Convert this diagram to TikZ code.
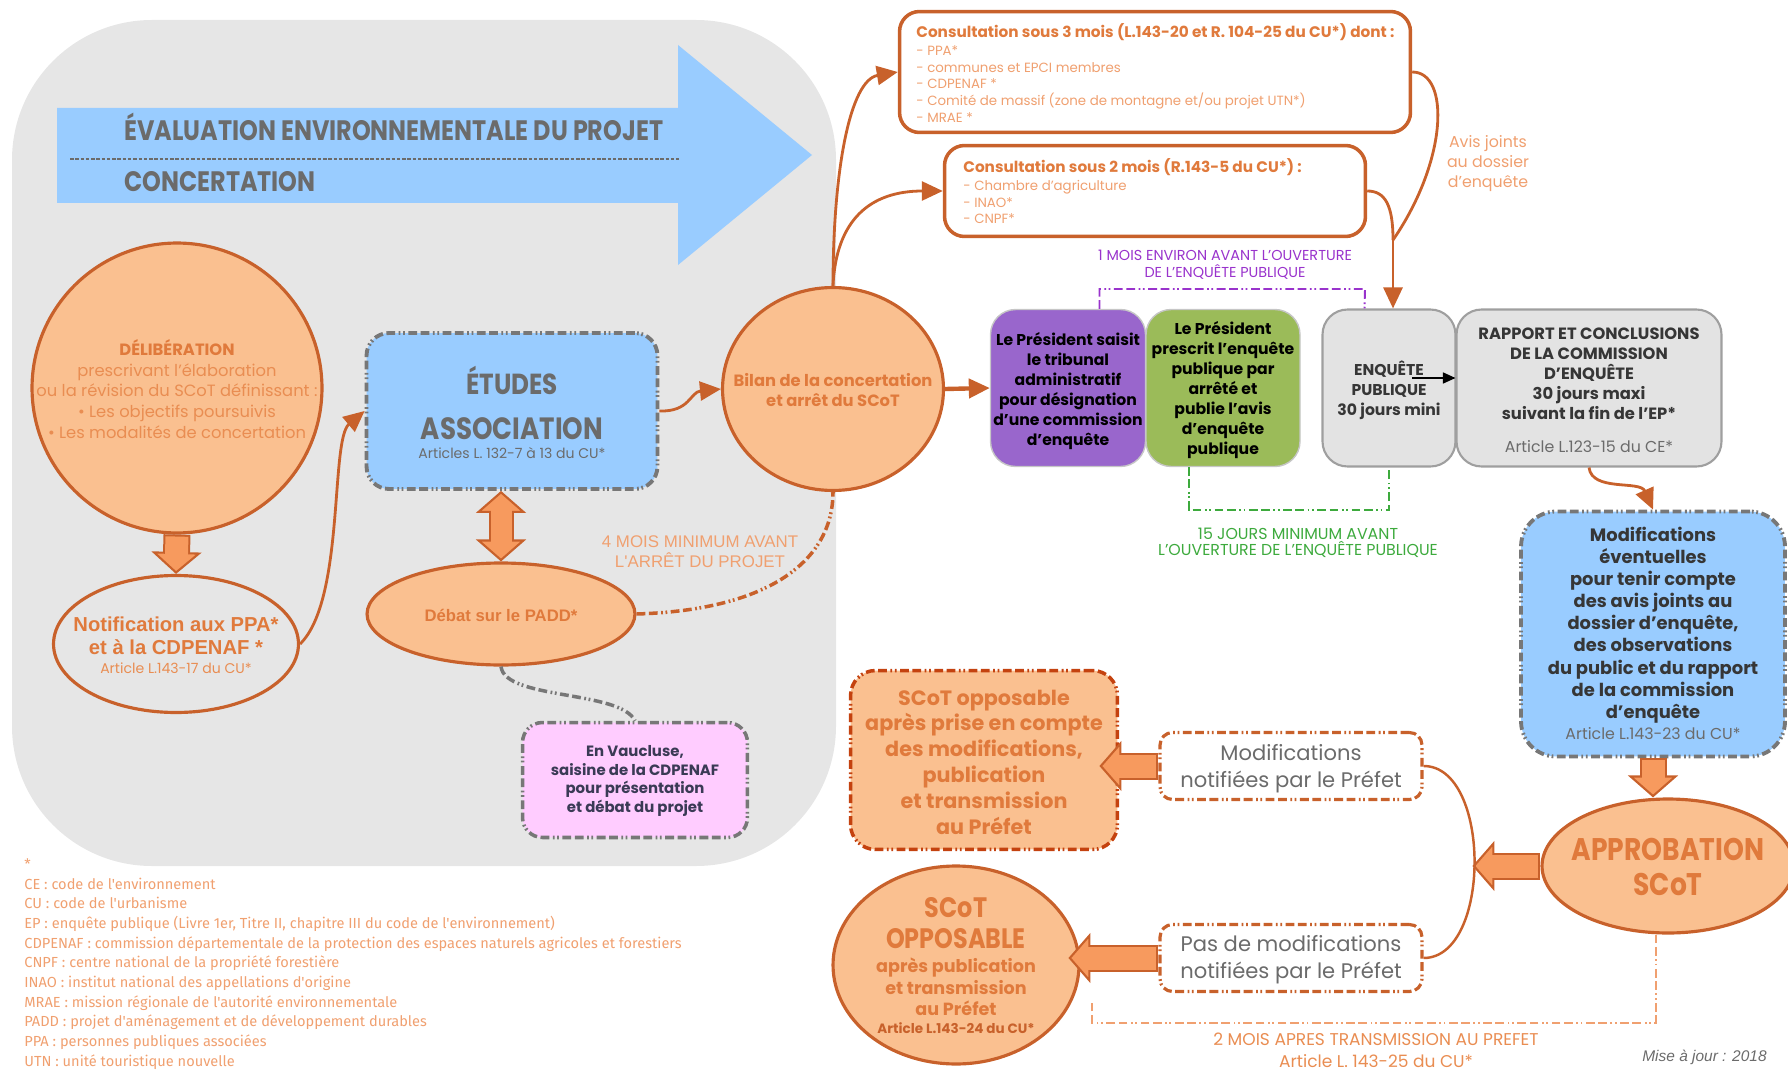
\documentclass[tikz,border=0pt]{standalone}
\usepackage{fontspec}
\setmainfont{Poppins}
\newfontfamily\headf[FakeStretch=0.85]{Poppins}
\newfontfamily\arialf{Liberation Sans}
\newfontfamily\legf{Fira Sans}
\usetikzlibrary{shapes.geometric,arrows.meta,calc}

\definecolor{bgG}{HTML}{E6E6E6}
\definecolor{skyB}{HTML}{99CCFF}
\definecolor{peach}{HTML}{FAC090}
\definecolor{orD}{HTML}{C8612B}
\definecolor{orF}{HTML}{F79A5E}
\definecolor{orT}{HTML}{E07A3C}
\definecolor{orM}{HTML}{E98D52}
\definecolor{orL}{HTML}{F0A070}
\definecolor{txG}{HTML}{6B6B6B}
\definecolor{txD}{HTML}{363636}
\definecolor{txN}{HTML}{3A3A55}
\definecolor{vio}{HTML}{9966CC}
\definecolor{vioT}{HTML}{9933CC}
\definecolor{grn}{HTML}{9BBB59}
\definecolor{grnT}{HTML}{3DAA3D}
\definecolor{boxG}{HTML}{E3E3E3}
\definecolor{brdG}{HTML}{777777}
\definecolor{pinkB}{HTML}{FFCCFF}
\definecolor{redD}{HTML}{C4420F}

\newcommand{\fsz}[2]{\fontsize{#1}{#2}\selectfont}

% grosse fleche : pointe, contour, remplissage
\newcommand{\fatarrow}[2]{%
  \draw[fattip] ($(#2)!0.44cm!(#1)$) -- (#2);
  \draw[orD, line width=0.54cm, shorten >=0.42cm] (#1) -- (#2);
  \draw[orF, line width=0.46cm, shorten >=0.38cm, shorten <=0.04cm] (#1) -- (#2);
}
\newcommand{\fatdarrow}[2]{%
  \draw[fattip] ($(#2)!0.44cm!(#1)$) -- (#2);
  \draw[fattip] ($(#1)!0.44cm!(#2)$) -- (#1);
  \draw[orD, line width=0.5cm, shorten >=0.42cm, shorten <=0.42cm] (#1) -- (#2);
  \draw[orF, line width=0.42cm, shorten >=0.38cm, shorten <=0.38cm] (#1) -- (#2);
}

\begin{document}
\begin{tikzpicture}[x=0.02cm, y=-0.02cm,
    every node/.style={inner sep=0pt, align=center},
    ddot/.style={dash pattern=on 5pt off 2pt on 5pt off 2pt on 1pt off 1.5pt on 1pt off 2pt},
    peachell/.style={ellipse, draw=orD, line width=1.8pt, fill=peach},
    lineell/.style={ellipse, draw=orD, line width=1.8pt},
    bluebox/.style={rectangle, rounded corners=0.45cm, fill=skyB, draw=brdG, line width=2.2pt, ddot},
    pinkbox/.style={rectangle, rounded corners=0.4cm, fill=pinkB, draw=brdG, line width=2pt, ddot},
    consbox/.style={rectangle, rounded corners=0.4cm, fill=white, draw=orD, line width=2pt},
    rowbox/.style={rectangle, rounded corners=0.5cm, draw=gray!45, line width=0.8pt},
    greybox/.style={rowbox, fill=boxG, draw=gray!75, line width=1.2pt},
    notebox/.style={rectangle, rounded corners=0.25cm, fill=white, draw=orD, line width=1.8pt, ddot},
    oppbox/.style={rectangle, rounded corners=0.5cm, fill=peach, draw=redD, line width=2pt, ddot},
    fattip/.style={orD, line width=1.2pt, -{Triangle[length=0.44cm, width=1cm, fill=orF]}},
    link/.style={orD, line width=1.6pt, -{Triangle[length=0.42cm, width=0.38cm]}},
    plainlink/.style={orD, line width=1.6pt},
    rowtxt/.style={font=\bfseries\fsz{8.9}{11.4}, text=black},
    smalltxt/.style={font=\fsz{8}{9}, text=txG}]

    \useasboundingbox (0,0) rectangle (1788,1071);

    % fond gris
    \fill[bgG, rounded corners=2.8cm] (12,20) rectangle (836,866);

    % fleche bleue
    \fill[skyB] (57,108) -- (678,108) -- (678,45) -- (812,155) -- (678,265) -- (678,203) -- (57,203) -- cycle;
    \node[anchor=west, font=\headf\bfseries\fsz{16}{18}, text=txG] (eval) at (124,127) {ÉVALUATION ENVIRONNEMENTALE DU PROJET};
    \draw[txG, line width=1.2pt, dash pattern=on 2pt off 1pt] (70,159) -- (679,159);
    \node[anchor=west, font=\headf\bfseries\fsz{16}{18}, text=txG] (conc) at (124,182) {CONCERTATION};

    % deliberation et notification
    \node[peachell, minimum width=5.8cm, minimum height=5.8cm] (delib) at (177,388) {};
    \node[font=\fsz{9.3}{11.7}, text=orM] (delibT) at (177,389)
        {{\color{orT}\bfseries DÉLIBÉRATION}\\prescrivant l'élaboration\\ou la révision du SCoT définissant :\\• Les objectifs poursuivis\\• Les modalités de concertation};
    \node[lineell, minimum width=4.9cm, minimum height=2.74cm] (notif) at (176,644) {};
    \node[font=\arialf\bfseries\fsz{11.5}{13}, text=orT] (notifT) at (176,636) {Notification aux PPA*\\et à la CDPENAF *};
    \node[font=\fsz{8}{9}, text=orM] (notifA) at (176,668) {Article  L.143-17 du CU*};

    % etudes, debat, vaucluse
    \node[bluebox, minimum width=5.82cm, minimum height=3.12cm] (etudes) at (512,411) {};
    \node[font=\headf\bfseries\fsz{16.5}{18}, text=txG] (etudesT) at (512,380) {ÉTUDES};
    \node[font=\headf\bfseries\fsz{17.5}{19}, text=txG] (assoc) at (512,429) {ASSOCIATION};
    \node[smalltxt] (etudesA) at (512,453) {Articles L. 132-7 à 13 du CU*};

    \node[peachell, minimum width=5.36cm, minimum height=2.04cm] (debat) at (501,614) {};
    \node[font=\arialf\bfseries\fsz{9.5}{11}, text=orT] (debatT) at (501,615) {Débat sur le PADD*};

    \node[pinkbox, minimum width=4.5cm, minimum height=2.3cm] (vauc) at (635,780) {};
    \node[font=\bfseries\fsz{8.5}{10.6}, text=txN] (vaucT) at (635,781) {En Vaucluse,\\saisine de la CDPENAF\\pour présentation\\et débat du projet};

    \node[font=\arialf\fsz{9.6}{11.4}, text=orL] (mois4) at (700,552) {4 MOIS MINIMUM AVANT\\L'ARRÊT DU PROJET};

    % bilan
    \node[peachell, minimum width=4.42cm, minimum height=4.06cm] (bilan) at (833,389) {};
    \node[font=\bfseries\fsz{9.3}{11.4}, text=orT] (bilanT) at (833,390) {Bilan de la concertation\\et arrêt du SCoT};

    % consultations
    \node[consbox, minimum width=10.22cm, minimum height=2.42cm] (cons3) at (1155,72) {};
    \node[anchor=west, font=\bfseries\fsz{8.7}{10}, text=orT] (cons3T) at (916,32) {Consultation sous 3 mois (L.143-20 et R. 104-25 du CU*) dont :};
    \node[anchor=west, align=left, font=\fsz{7.6}{9.5}, text=orL] (cons3L) at (916,84)
        {- PPA*\\- communes et EPCI membres\\- CDPENAF *\\- Comité de massif (zone de montagne et/ou projet UTN*)\\- MRAE *};
    \node[consbox, minimum width=8.42cm, minimum height=1.82cm] (cons2) at (1155,191) {};
    \node[anchor=west, font=\bfseries\fsz{8.7}{10}, text=orT] (cons2T) at (963,167) {Consultation sous 2 mois (R.143-5 du CU*) :};
    \node[anchor=west, align=left, font=\fsz{7.6}{9.5}, text=orL] (cons2L) at (963,202)
        {- Chambre d'agriculture\\- INAO*\\- CNPF*};
    \node[font=\fsz{9}{11.4}, text=orL] (avis) at (1488,164) {Avis joints\\au dossier\\d'enquête};
    \node[font=\fsz{8.2}{9.7}, text=vioT] (mois1) at (1225,265) {1 MOIS ENVIRON AVANT L'OUVERTURE\\DE L'ENQUÊTE PUBLIQUE};

    % enquete publique
    \node[rowbox, fill=vio, minimum width=3.1cm, minimum height=3.14cm] (presT) at (1068,388) {};
    \node[rowtxt] (presTT) at (1068,391) {Le Président saisit\\le tribunal\\administratif\\pour désignation\\d'une commission\\d'enquête};
    \node[rowbox, fill=grn, minimum width=3.08cm, minimum height=3.14cm] (presP) at (1223,388) {};
    \node[rowtxt] (presPT) at (1223,390) {Le Président\\prescrit l'enquête\\publique par\\arrêté et\\publie l'avis\\d'enquête\\publique};
    \node[greybox, minimum width=2.66cm, minimum height=3.14cm] (enq) at (1389,388) {};
    \node[rowtxt, text=txD] (enqT) at (1389,390) {ENQUÊTE\\PUBLIQUE\\30 jours mini};
    \node[greybox, minimum width=5.3cm, minimum height=3.14cm] (rapp) at (1589,388) {};
    \node[rowtxt, font=\bfseries\fsz{9.3}{11.4}, text=txD] (rappT) at (1589,374) {RAPPORT ET CONCLUSIONS\\DE LA COMMISSION\\D'ENQUÊTE\\30 jours maxi\\suivant la fin de l'EP*};
    \node[font=\fsz{9}{10}, text=txG] (rappA) at (1589,447) {Article L.123-15 du CE*};
    \node[font=\fsz{9}{9.3}, text=grnT] (jours15) at (1298,543) {15 JOURS MINIMUM AVANT\\L'OUVERTURE DE L'ENQUÊTE PUBLIQUE};

    % modifications et approbation
    \node[bluebox, rounded corners=0.7cm, minimum width=5.28cm, minimum height=4.9cm] (modif) at (1653,634) {};
    \node[font=\bfseries\fsz{10.2}{12.6}, text=txD] (modifT) at (1653,625)
        {Modifications\\éventuelles\\pour tenir compte\\des avis joints au\\dossier d'enquête,\\des observations\\du public et du rapport\\de la commission\\d'enquête};
    \node[font=\fsz{9}{10}, text=txG] (modifA) at (1653,734) {Article L.143-23 du CU*};
    \node[peachell, minimum width=5.04cm, minimum height=2.68cm] (appro) at (1668,866) {};
    \node[font=\headf\bfseries\fsz{17.8}{19.5}, text=orT] (approT) at (1668,867) {APPROBATION\\SCoT};

    \node[notebox, minimum width=5.24cm, minimum height=1.34cm] (notifM) at (1291,766) {};
    \node[font=\fsz{12}{15.5}, text=txG] (notifMT) at (1291,769) {Modifications\\notifiées par le Préfet};
    \node[notebox, minimum width=5.24cm, minimum height=1.34cm] (notifP) at (1291,958) {};
    \node[font=\fsz{12}{15.5}, text=txG] (notifPT) at (1291,960) {Pas de modifications\\notifiées par le Préfet};

    \node[oppbox, minimum width=5.34cm, minimum height=3.58cm] (oppM) at (984,760) {};
    \node[font=\bfseries\fsz{11.8}{14.7}, text=orT] (oppMT) at (984,762)
        {SCoT opposable\\après prise en compte\\des modifications,\\publication\\et transmission\\au Préfet};
    \node[peachell, minimum width=4.92cm, minimum height=3.96cm] (oppO) at (956,965) {};
    \node[font=\headf\bfseries\fsz{16}{17.5}, text=orT] (oppOT) at (956,923) {SCoT\\OPPOSABLE};
    \node[font=\bfseries\fsz{10}{12.2}, text=orT] (oppOS) at (956,987) {après publication\\et transmission\\au Préfet};
    \node[font=\bfseries\fsz{7.7}{9}, text=orD] (oppOA) at (956,1028) {Article L.143-24 du CU*};

    \node[font=\fsz{9.7}{12.5}, text=orM] (mois2) at (1376,1050) {2 MOIS APRES TRANSMISSION AU PREFET\\Article L. 143-25 du CU*};
    \node[anchor=east, font=\arialf\itshape\fsz{8.8}{10}, text=txG] (maj) at (1767,1057) {Mise à jour : 2018};

    % legende
    \node[anchor=west, align=left, font=\legf\fsz{8.3}{11.2}, text=orL] (leg) at (24,964)
        {*\\CE : code de l'environnement\\CU : code de l'urbanisme\\EP : enquête publique (Livre 1er, Titre II, chapitre III du code de l'environnement)\\CDPENAF : commission départementale de la protection des espaces naturels agricoles et forestiers\\CNPF : centre national de la propriété forestière\\INAO : institut national des appellations d'origine\\MRAE : mission régionale de l'autorité environnementale\\PADD : projet d'aménagement et de développement durables\\PPA : personnes publiques associées\\UTN : unité touristique nouvelle};

    % points libres
    \coordinate (merge) at (1393,240);
    \coordinate (enqA) at ($(enq.center)+(23,-10)$);
    \coordinate (dbTop) at (debat.north |- etudes.south);
    \coordinate (apTop) at (modif.south |- appro.north);
    \coordinate (brk) at ($(appro.west)+(-68,0)$);
    \coordinate (tipM) at ($(notifM.west)+(-59,0)$);
    \coordinate (tipP) at ($(notifP.west)+(-90,0)$);
    \coordinate (brO) at (1092,1000);

    % grosses fleches
    \fatarrow{delib.south}{notif.north}
    \fatdarrow{dbTop}{debat.north}
    \fatarrow{modif.south}{apTop}
    \fatarrow{appro.west}{brk}
    \fatarrow{notifM.west}{tipM}
    \fatarrow{notifP.west}{tipP}

    % liaisons
    \draw[link] (notif.east) .. controls (345,600) and (330,440) .. (etudes.west);
    \draw[link] (etudes.east) .. controls (690,412) and (690,392) .. (bilan.west);
    \draw[link, line width=2.5pt] (bilan.east) -- (presT.west);
    \draw[link] (bilan.north) .. controls (833,170) and (850,80) .. (cons3.west);
    \draw[link] (bilan.north) .. controls (836,220) and (870,191) .. (cons2.west);
    \draw[plainlink] (cons3.east) .. controls (1450,72) and (1448,160) .. (merge);
    \draw[plainlink] (cons2.east) .. controls (1385,191) and (1393,205) .. (merge);
    \draw[link] (merge) -- (merge |- enq.north);
    \draw[black, line width=0.8pt, -{Triangle[length=0.25cm, width=0.22cm]}] (enqA) -- (enqA -| rapp.west);
    \draw[link] (rapp.south) .. controls (1592,492) and (1640,480) .. (modif.north);
    \draw[orD, line width=1.4pt] (notifM.east) .. controls +(68,0) and +(68,0) .. (notifP.east);

    % pointilles
    \draw[orD, line width=2pt, ddot] (debat.east) .. controls (770,610) and (833,560) .. (bilan.south);
    \draw[brdG, line width=2pt, ddot] (debat.south) .. controls (505,700) and (620,690) .. (vauc.north);
    \draw[vioT, line width=1.1pt, ddot] ([xshift=0.63cm]presT.north) |- (1365,289) -- ([xshift=-0.49cm]enq.north);
    \draw[grnT, line width=1.1pt, ddot] ([xshift=-0.68cm]presP.south) -- ++(0,43) -| (enq.south);
    \draw[orL, line width=1.1pt, ddot] ([xshift=-0.24cm]appro.south) -- ++(0,88) -| (brO);
\end{tikzpicture}
\end{document}
